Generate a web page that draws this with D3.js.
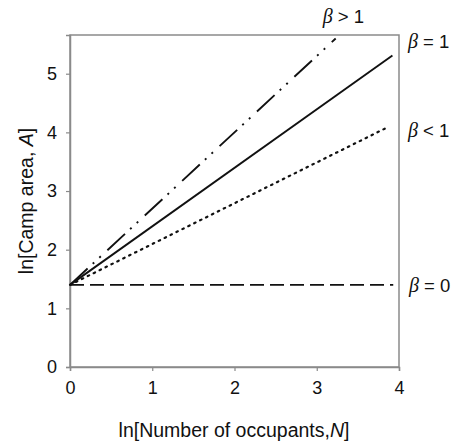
<!DOCTYPE html>
<html><head><meta charset="utf-8">
<script src="https://cdn.jsdelivr.net/npm/d3@7"></script>
<style>body{margin:0;background:#fff}svg{display:block}text{font-family:"Liberation Sans",Arial,sans-serif;fill:#111}</style>
</head><body><svg id="c" width="455" height="446"></svg>
<script>
const xTicks = [0, 1, 2, 3, 4];
const yTicks = [0, 1, 2, 3, 4, 5];
const lineNames = ["β > 1", "β = 1", "β < 1", "β = 0"];
const lineSymbol = ["> 1", "= 1", "< 1", "= 0"];
const xStart = [0, 0, 0, 0];
const yStart = [1.4, 1.4, 1.4, 1.4];
const xEnd = [3.23, 3.92, 3.88, 3.93];
const yEnd = [5.6, 5.31, 4.1, 1.4];
const dashes = ["24,7,2,7,2,9", null, "1.6,5", "14,6"];

const svg = d3.select("#c");
const L = 70, R = 399, T = 35, B = 367;
const x = d3.scaleLinear().domain([0, 4]).range([L, R]);
const y = d3.scaleLinear().domain([0, 5.66]).range([B, T]);
const axisColor = "#8a8a8a";

// frame
svg.append("rect").attr("x", L).attr("y", T).attr("width", R - L).attr("height", B - T)
  .attr("fill", "none").attr("stroke", axisColor).attr("stroke-width", 1.5);

const xa = svg.append("g").attr("transform", `translate(0,${B})`)
  .call(d3.axisBottom(x).tickValues(xTicks).tickSize(4).tickPadding(10).tickFormat(d3.format("d")));
const ya = svg.append("g").attr("transform", `translate(${L},0)`)
  .call(d3.axisLeft(y).tickValues(yTicks).tickSize(4).tickPadding(9).tickFormat(d3.format("d")));
[xa, ya].forEach(a => {
  a.select(".domain").attr("stroke", axisColor).attr("stroke-width", 1.5);
  a.selectAll(".tick line").attr("stroke", axisColor).attr("stroke-width", 1.2);
  a.selectAll("text").attr("font-size", 18).attr("font-family", "Liberation Sans, Arial, sans-serif").attr("fill", "#111");
});

// lines
lineNames.forEach((n, i) => {
  svg.append("line")
    .attr("x1", x(xStart[i])).attr("y1", y(yStart[i]))
    .attr("x2", x(xEnd[i])).attr("y2", y(yEnd[i]))
    .attr("stroke", "#111").attr("stroke-width", i === 2 ? 2.2 : 1.9)
    .attr("stroke-linecap", i === 2 ? "round" : "butt")
    .attr("stroke-dasharray", dashes[i]);
});

// labels
const labelPos = [[x(xEnd[0]) - 13, 23], [408, 48], [408, 137], [409, 292]];
lineNames.forEach((n, i) => {
  const t = svg.append("text").attr("x", labelPos[i][0]).attr("y", labelPos[i][1]).attr("font-size", 18.5);
  t.append("tspan").attr("font-family", "Liberation Serif, serif").attr("font-style", "italic").attr("font-size", 20).text("β");
  t.append("tspan").text(" " + lineSymbol[i]);
});

// axis titles
const xt = svg.append("text").attr("x", 234).attr("y", 437).attr("text-anchor", "middle").attr("font-size", 19.5);
xt.append("tspan").text("ln[Number of occupants,");
xt.append("tspan").attr("font-style", "italic").text("N");
xt.append("tspan").text("]");
const yt = svg.append("text").attr("transform", "translate(33,201) rotate(-90)").attr("text-anchor", "middle").attr("font-size", 19.5);
yt.append("tspan").text("ln[Camp area, ");
yt.append("tspan").attr("font-style", "italic").text("A");
yt.append("tspan").text("]");
</script></body></html>
